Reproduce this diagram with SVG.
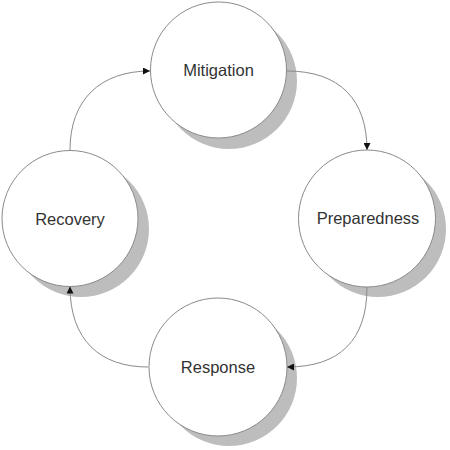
<svg xmlns="http://www.w3.org/2000/svg" width="450" height="450" viewBox="0 0 450 450">
<style>
.sh{fill:#bdbdbd;stroke:none}
.c{fill:#fff;stroke:#8a8a8a;stroke-width:1}
.t{font-family:"Liberation Sans",Arial,sans-serif;font-size:16.5px;fill:#333;text-anchor:middle}
.e{fill:none;stroke:#8a8a8a;stroke-width:1;marker-end:url(#a)}
</style>
<defs>
<marker id="a" viewBox="0 0 10 10" refX="10" refY="5" markerWidth="7" markerHeight="7" markerUnits="userSpaceOnUse" orient="auto">
<path d="M0,0L10,5L0,10z" fill="#111"/>
</marker>
</defs>
<rect width="450" height="450" fill="#fff"/>
<g id="mitigation">
<circle class="sh" cx="229" cy="81" r="68"/>
<circle class="c" cx="218.5" cy="70" r="68"/>
<text class="t" x="218.5" y="76">Mitigation</text>
</g>
<g id="preparedness">
<circle class="sh" cx="378" cy="229" r="68"/>
<circle class="c" cx="367" cy="218.5" r="68.5"/>
<text class="t" x="368" y="224">Preparedness</text>
</g>
<g id="response">
<circle class="sh" cx="229" cy="378" r="68"/>
<circle class="c" cx="218" cy="367" r="69"/>
<text class="t" x="218" y="373">Response</text>
</g>
<g id="recovery">
<circle class="sh" cx="81" cy="229" r="68"/>
<circle class="c" cx="70" cy="218.5" r="68"/>
<text class="t" x="70" y="225">Recovery</text>
</g>
<g id="connectors">
<path class="e" d="M287,71 C340,71 367,100 367,150"/>
<path class="e" d="M367,287 C367,340 340,367 287,367"/>
<path class="e" d="M148,367 C100,367 70,340 70,286.5"/>
<path class="e" d="M70,150 C70,100 100,71 150,71"/>
</g>
</svg>
